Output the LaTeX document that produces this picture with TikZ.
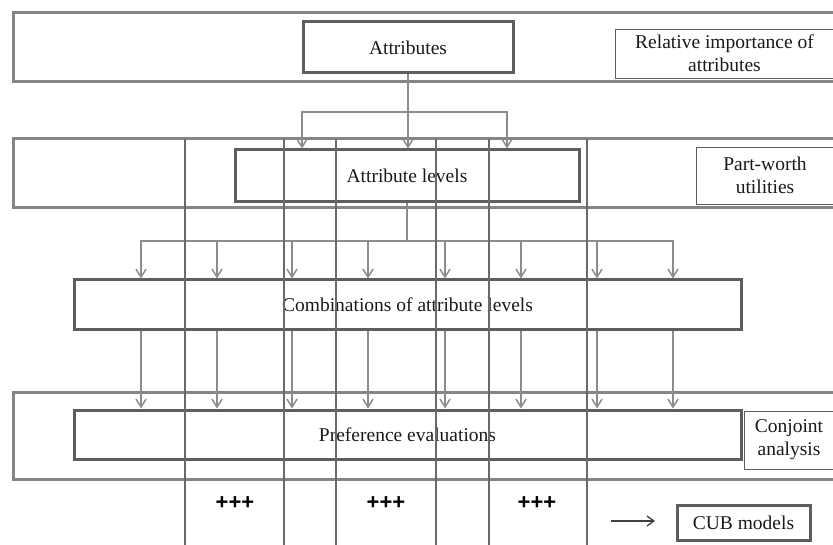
\documentclass[tikz,border=0pt]{standalone}
\usepackage{fontspec}
\setmainfont{Liberation Serif}
\newfontfamily\plusfont{Liberation Sans}
\usetikzlibrary{arrows.meta}
\definecolor{bandc}{HTML}{858585}
\definecolor{boxc}{HTML}{5E5E5E}
\definecolor{vlc}{HTML}{6A6A6A}
\definecolor{connc}{HTML}{8C8C8C}
\definecolor{txtc}{HTML}{1A1A1A}
\tikzset{
  band/.style={draw=bandc, line width=3pt},
  mainbox/.style={draw=boxc, line width=3pt, inner sep=0pt, text=txtc, font=\fontsize{19.5}{23}\selectfont},
  notebox/.style={draw=boxc, line width=0.9pt, inner sep=0pt, align=center, text=txtc, font=\fontsize{19.5}{23}\selectfont},
  conn/.style={draw=connc, line width=1.5pt},
  connarrow/.style={conn, -{Straight Barb[length=8pt,width=10pt,line width=1.5pt]}},
  vline/.style={draw=vlc, line width=2.8pt},
  plus/.style={text=black, font=\plusfont\fontsize{22}{24}\selectfont\bfseries, inner sep=0pt},
}
\begin{document}
\begin{tikzpicture}[x=1pt,y=-1pt]
\useasboundingbox (0,0) rectangle (833,545);
\clip (0,0) rectangle (833,545);
\fill[white] (0,0) rectangle (833,545);
% bands
\draw[band] (13,13) rectangle (850,82);
\draw[band] (13,139) rectangle (850,208);
\draw[band] (13,392) rectangle (850,479);
% main boxes
\node[mainbox, minimum width=210pt, minimum height=51pt] (attr) at (408,47.5) {Attributes};
\node[mainbox, minimum width=344pt, minimum height=52pt] (attrlev) at (407,176) {Attribute levels};
\node[mainbox, minimum width=667pt, minimum height=50pt] (comb) at (407.5,305) {Combinations of attribute levels};
\node[mainbox, minimum width=667pt, minimum height=49pt] (pref) at (407.5,434.5) {Preference evaluations};
\node[mainbox, minimum width=133pt, minimum height=35pt] (cub) at (743.5,522.5) {CUB models};
% note boxes
\node[notebox, minimum width=219pt, minimum height=49pt] (relimp) at (724.5,53.5) {Relative importance of\\attributes};
\node[notebox, minimum width=138pt, minimum height=57pt] (pw) at (765,175.5) {Part-worth\\utilities};
\node[notebox, minimum width=90pt, minimum height=58pt] (conj) at (789,440) {Conjoint\\analysis};
% first fan
\coordinate (j1) at (408,112);
\draw[conn] (attr.south) -- (j1);
\draw[connarrow] (j1) -- (408,0 |- attrlev.north);
\draw[connarrow] (j1) -| (302,0 |- attrlev.north);
\draw[connarrow] (j1) -| (507,0 |- attrlev.north);
% second fan
\coordinate (j2) at (407,241);
\draw[conn] (attrlev.south) -- (j2);
\foreach \xx in {141,217,292,368,445,521,597,673} {
  \draw[connarrow] (j2) -| (\xx,0 |- comb.north);
  \draw[connarrow] (\xx,0 |- comb.south) -- (\xx,0 |- pref.north);
}
% vertical lines
\foreach \xx in {185,284,336,436,489,587} {
  \draw[vline] (\xx,139) -- (\xx,546);
}
% plus signs
\node[plus] (p1) at (235,503) {+++};
\node[plus] (p2) at (386,503) {+++};
\node[plus] (p3) at (537,503) {+++};
% arrow to CUB
\coordinate (a1) at (611,521);
\coordinate (a2) at (655,521);
\draw[draw=black!75, line width=1.3pt, -{Straight Barb[length=7pt,width=10pt,line width=1.3pt]}] (a1) -- (a2);
\end{tikzpicture}
\end{document}
